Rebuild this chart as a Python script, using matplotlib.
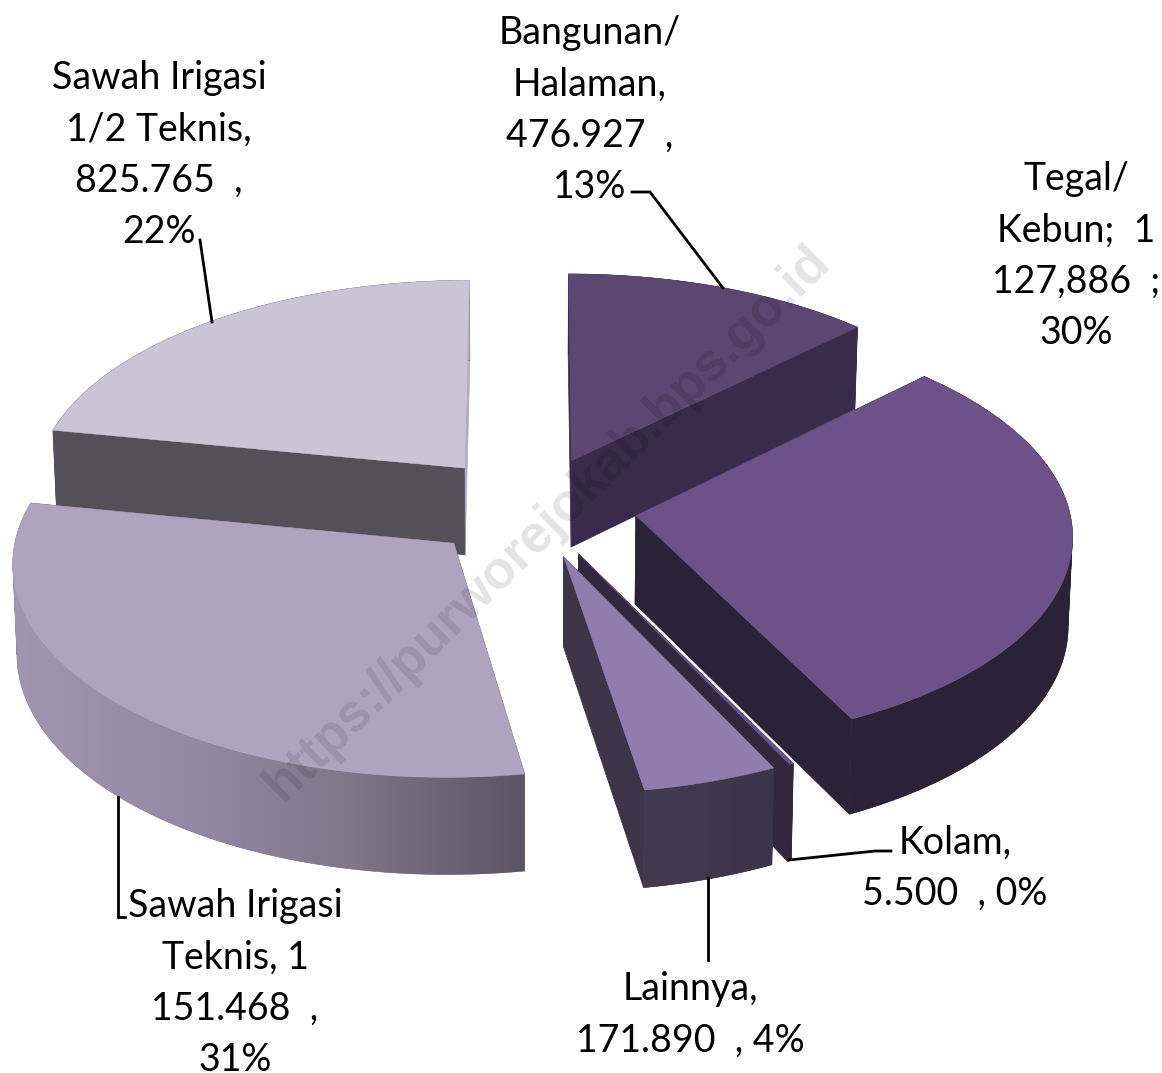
import numpy as np
import matplotlib
matplotlib.use("Agg")
import matplotlib.pyplot as plt
from matplotlib.colors import LinearSegmentedColormap

# luas lahan, urut searah jarum jam dari atas
names = ["Bangunan", "Tegal", "Kolam", "Lainnya", "Teknis", "Setengah"]
values = [476927, 1127886, 5500, 171890, 1151468, 825765]

top_colors = ["#5c4672", "#6c5289", "#6c5289", "#917dad", "#aea4c0", "#c9c4d6"]
# warna sisi potongan: awal dan akhir juring
face_colors = [("#3a2b4b", "#3a2b4b"), ("#2b2238", "#2b2238"), ("#33273f", "#33273f"),
               ("#3e3449", "#3e3449"), ("#5f5a6a", "#5f5a6a"), ("#54505a", "#b3acc0")]
side_stops = [["#3a2b4b", "#3a2b4b"], ["#2b2238", "#2b2238"], ["#33273f", "#33273f"],
              ["#443a50", "#3c3448"], ["#a096b0", "#948aa4", "#7f7689", "#5a5565"],
              ["#54505a"] * 20 + ["#b3acc0"]]
draw_order = [2, 3, 5, 6, 4, 1]

# kamera sederhana
CX, CY = 531, 507
RX, RY = 433, 209
K = 0.081
H = 88
SHRINK = 0.992
EXPLODE = 0.245

plt.rcParams["font.family"] = "Lato"
fig = plt.figure(figsize=(11.62, 10.73), dpi=100)
ax = fig.add_axes([0, 0, 1, 1])


def project(x, y, low=False):
    s = 1 / (1 + K * y)
    px = RX * x * s
    py = CY - RY * y * s
    if low:
        return CX + px * SHRINK, py + H * s
    return CX + px, py


def draw_slice(i, t0, t1):
    z = draw_order[i]
    mid = (t0 + t1) / 2
    ox, oy = EXPLODE * np.sin(mid), EXPLODE * np.cos(mid)
    t = np.linspace(t0, t1, max(int((t1 - t0) * 80), 4))
    x = ox + np.sin(t)
    y = oy + np.cos(t)

    # sisi potongan, yang menghadap penonton digambar terakhir
    ends = [-1, 0] if i == 5 else [0, -1]
    for k in ends:
        p = [project(ox, oy), project(x[k], y[k]), project(x[k], y[k], True), project(ox, oy, True)]
        c = face_colors[i][0 if k == 0 else 1]
        ax.fill(*zip(*p), color=c, lw=0.5, zorder=z)

    # sisi luar, gradasi mendatar, dipecah di titik paling kiri/kanan
    ux, uy = project(x, y)
    lx, ly = project(x, y, True)
    cuts = sorted({0, int(np.argmax(ux)), int(np.argmin(ux)), len(t) - 1})
    ext = [min(ux.min(), lx.min()), max(ux.max(), lx.max()), ly.max(), uy.min()]
    cmap = LinearSegmentedColormap.from_list("side", side_stops[i])
    edge = side_stops[i][len(side_stops[i]) // 2]
    for a, b in zip(cuts[:-1], cuts[1:]):
        poly_x = np.r_[ux[a:b + 1], lx[a:b + 1][::-1]]
        poly_y = np.r_[uy[a:b + 1], ly[a:b + 1][::-1]]
        patch = ax.fill(poly_x, poly_y, color=edge, lw=0.3, zorder=z + 0.1)[0]
        img = ax.imshow(np.linspace(0, 1, 256).reshape(1, -1), cmap=cmap, aspect="auto",
                        extent=ext, zorder=z + 0.15)
        img.set_clip_path(patch)

    # permukaan atas
    px, py = project(np.r_[ox, x], np.r_[oy, y])
    ax.fill(px, py, color=top_colors[i], lw=0.3, zorder=z + 0.2)


edges = np.r_[0, np.cumsum(values)] / np.sum(values) * 2 * np.pi
for i in range(len(values)):
    draw_slice(i, edges[i], edges[i + 1])

ax.set_xlim(0, 1162)
ax.set_ylim(1073, 0)
ax.axis("off")

# label data
labels = [(590, 110, "Bangunan/\nHalaman,\n476.927  ,\n13%"),
          (1076, 256, "Tegal/\nKebun;  1\n127,886  ;\n30%"),
          (159, 155, "Sawah Irigasi\n1/2 Teknis,\n825.765  ,\n22%"),
          (235, 983, "Sawah Irigasi\nTeknis, 1\n151.468  ,\n31%"),
          (690, 1015, "Lainnya,\n171.890  , 4%"),
          (955, 868, "Kolam,\n5.500  , 0%")]
for lx, ly, s in labels:
    ax.text(lx, ly, s, ha="center", va="center", fontsize=27, linespacing=1.52, zorder=20)

# garis penunjuk
leaders = [([200, 212], [240, 322]), ([632, 650, 723], [192, 192, 288]),
           ([118, 118, 125], [797, 917, 917]), ([891, 875, 789], [851, 851, 860]),
           ([708, 708], [878, 960])]
for lx, ly in leaders:
    ax.plot(lx, ly, color="black", lw=2, zorder=15, solid_joinstyle="miter")

# watermark
ax.text(547, 523, "https://purworejokab.bps.go.id", rotation=44.5, rotation_mode="anchor",
        ha="center", va="center", fontsize=38, fontweight="bold", family="Liberation Sans",
        color="black", alpha=0.11, zorder=30)

fig.savefig("out.png", dpi=100)
